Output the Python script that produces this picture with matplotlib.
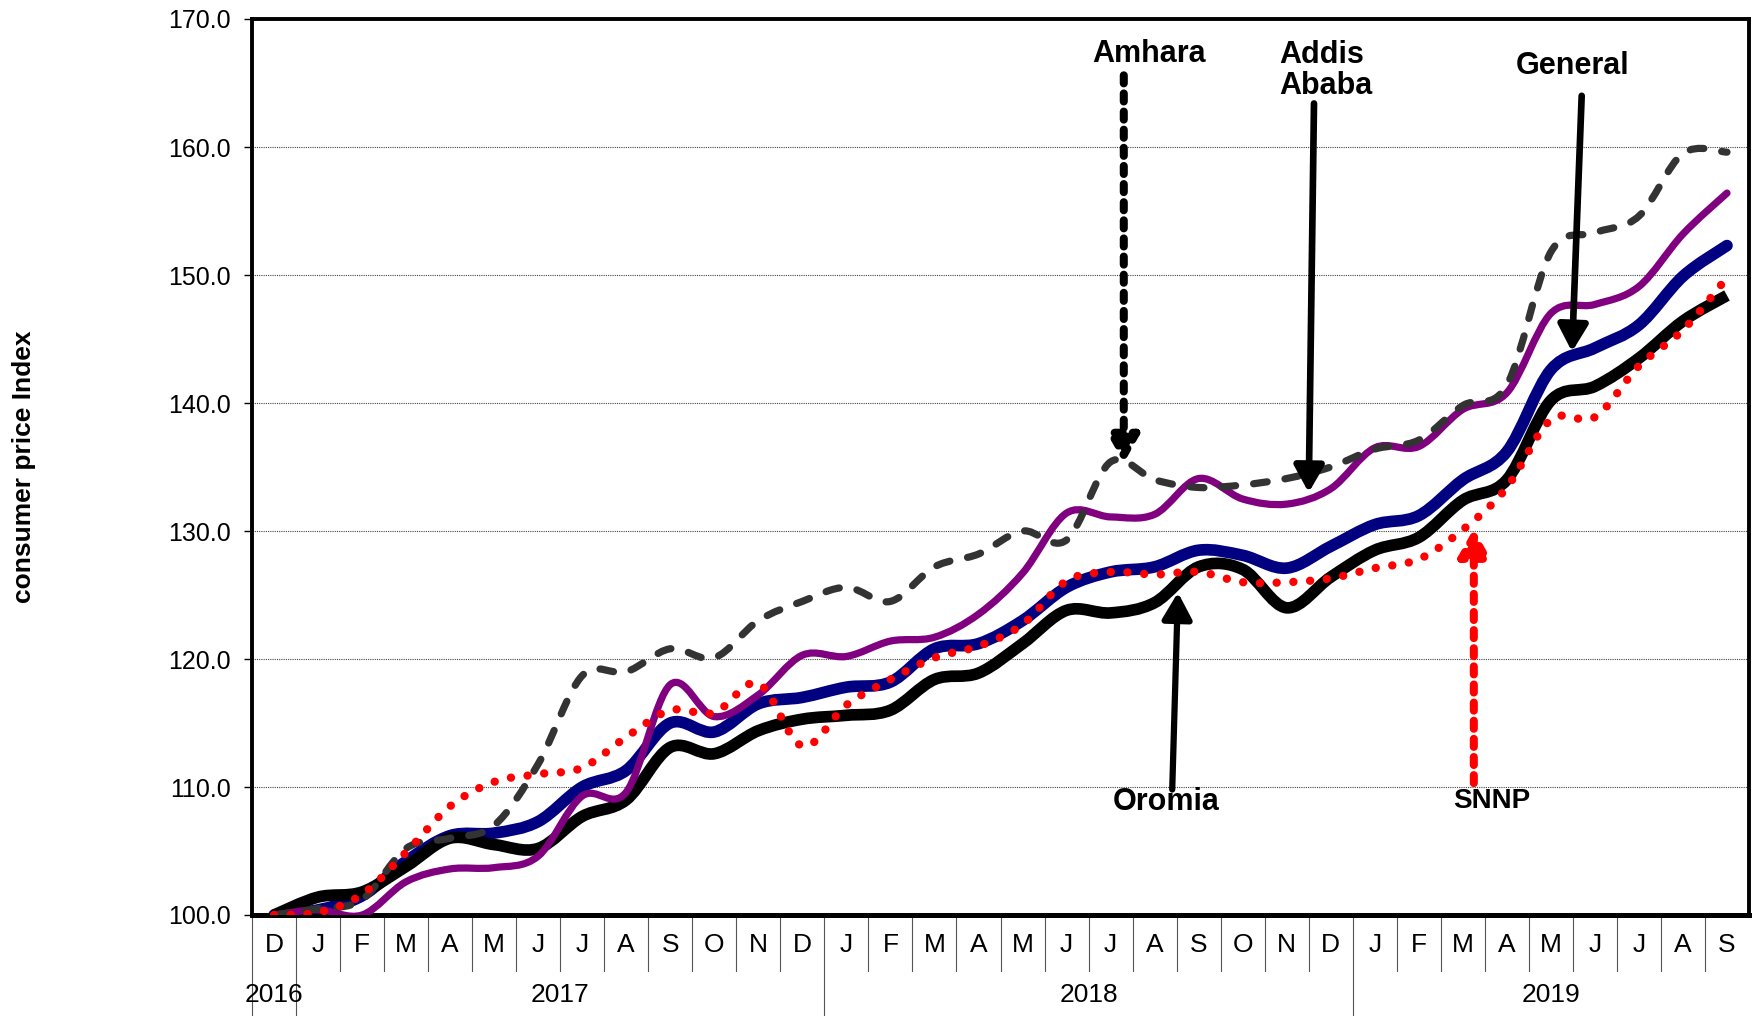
import matplotlib
matplotlib.use("Agg")
import matplotlib.pyplot as plt
from matplotlib.path import Path
from matplotlib.patches import PathPatch
from matplotlib.transforms import blended_transform_factory

plt.rcParams['font.family'] = ['Liberation Sans', 'DejaVu Sans']

# monthly CPI, Dec 2016 .. Sep 2019 (Dec 2016 = 100)
months = ['D', 'J', 'F', 'M', 'A', 'M', 'J', 'J', 'A', 'S', 'O', 'N',
          'D', 'J', 'F', 'M', 'A', 'M', 'J', 'J', 'A', 'S', 'O', 'N',
          'D', 'J', 'F', 'M', 'A', 'M', 'J', 'J', 'A', 'S']
years = ['2016', '2017', '2018', '2019']
year_centers = [0, 6.5, 18.5, 29]

general = [100.0, 100.4, 101.5, 104.2, 106.2, 106.4, 107.3, 110.0, 111.3, 115.0,
           114.3, 116.5, 117.0, 117.8, 118.2, 120.8, 121.2, 123.0, 125.6, 126.8,
           127.2, 128.5, 128.1, 127.1, 128.8, 130.5, 131.2, 134.0, 136.2, 142.6,
           144.3, 146.1, 149.9, 152.3]
oromia = [100.0, 101.4, 101.8, 103.8, 106.0, 105.5, 105.2, 107.7, 109.0, 113.1,
          112.6, 114.4, 115.3, 115.6, 116.0, 118.4, 118.9, 121.2, 123.8, 123.6,
          124.4, 127.2, 127.0, 124.0, 126.4, 128.5, 129.5, 132.4, 134.0, 140.2,
          141.3, 143.5, 146.4, 148.4]
addis = [100.0, 100.4, 100.0, 102.6, 103.6, 103.7, 104.6, 109.3, 109.6, 118.0,
         115.5, 117.2, 120.3, 120.2, 121.4, 121.7, 123.5, 126.7, 131.4, 131.1,
         131.3, 134.1, 132.5, 132.1, 133.3, 136.5, 136.6, 139.5, 140.8, 147.0,
         147.7, 149.1, 153.2, 156.4]
amhara = [100.0, 100.5, 101.2, 105.2, 106.0, 107.0, 111.8, 118.7, 119.0, 120.8,
          120.1, 123.0, 124.5, 125.6, 124.5, 127.2, 128.2, 130.0, 129.3, 135.4,
          134.0, 133.4, 133.6, 134.1, 135.0, 136.4, 137.1, 139.8, 141.4, 151.8,
          153.3, 154.6, 159.5, 159.6]
snnp = [100.0, 100.2, 101.6, 104.9, 108.5, 110.4, 111.0, 111.5, 113.9, 116.0,
        115.8, 118.1, 113.2, 116.4, 118.4, 120.1, 121.0, 122.7, 126.1, 126.8,
        126.6, 126.8, 126.0, 126.0, 126.3, 127.1, 127.8, 130.1, 133.4, 138.7,
        138.9, 142.9, 145.7, 149.8]


def smooth_path(ys):
    # Excel-style smoothed line: cubic Bezier through every point
    xs = list(range(len(ys)))
    n = len(ys)
    verts = [(xs[0], ys[0])]
    codes = [Path.MOVETO]
    for i in range(n - 1):
        xp, yp = (xs[i - 1], ys[i - 1]) if i > 0 else (xs[i], ys[i])
        xn, yn = (xs[i + 2], ys[i + 2]) if i + 2 < n else (xs[i + 1], ys[i + 1])
        c1 = (xs[i] + (xs[i + 1] - xp) / 6, ys[i] + (ys[i + 1] - yp) / 6)
        c2 = (xs[i + 1] - (xn - xs[i]) / 6, ys[i + 1] - (yn - ys[i]) / 6)
        verts += [c1, c2, (xs[i + 1], ys[i + 1])]
        codes += [Path.CURVE4] * 3
    return Path(verts, codes)


fig = plt.figure(figsize=(17.54, 10.16), dpi=100)
ax = fig.add_axes([252 / 1754, 101 / 1016, 1497 / 1754, 896 / 1016])

series = [
    (general, dict(color='#000080', lw=8.4, linestyle='-', capstyle='round'), 2),
    (oromia, dict(color='black', lw=8.4, linestyle='-', capstyle='butt'), 3),
    (addis, dict(color='#800080', lw=5.2, linestyle='-', capstyle='round'), 4),
    (amhara, dict(color='#333333', lw=5.2, linestyle=(0, (1.9, 2.5)), capstyle='round'), 5),
    (snnp, dict(color='#ff0000', lw=6.0, linestyle=(0, (0.01, 2.0)), capstyle='round'), 6),
]
for ys, st, z in series:
    p = PathPatch(smooth_path(ys), fill=False, edgecolor=st['color'], lw=st['lw'],
                  linestyle=st['linestyle'], capstyle=st['capstyle'],
                  joinstyle='round', zorder=z)
    ax.add_patch(p)

ax.set_xlim(-0.5, 33.5)
ax.set_ylim(100, 170)
ax.set_yticks(range(100, 171, 10))
ax.set_yticklabels([f"{v:.1f}" for v in range(100, 171, 10)], fontsize=18)
ax.tick_params(axis='y', length=6, width=1, pad=9)
ax.set_xticks([])
ax.yaxis.grid(True, linestyle=(0, (1, 1)), color='#444444', lw=0.8)
ax.set_axisbelow(True)
for side in ['left', 'top', 'right']:
    ax.spines[side].set_linewidth(2.8)
ax.spines['bottom'].set_linewidth(3.6)

ax.set_ylabel('consumer price Index', fontsize=19, fontweight='bold')
ax.yaxis.set_label_coords(-0.1443, 0.5)

# category axis: month letters, year row and separators
tr = blended_transform_factory(ax.transData, ax.transAxes)
for i, m in enumerate(months):
    ax.text(i, -0.034, m, transform=tr, ha='center', va='center', fontsize=19)
for yr, xc in zip(years, year_centers):
    ax.text(xc, -0.089, yr, transform=tr, ha='center', va='center', fontsize=19)
long_sep = [-0.5, 0.5, 12.5, 24.5]
for b in [i - 0.5 for i in range(34)]:
    bottom = -0.113 if b in long_sep else -0.062
    ax.plot([b, b], [0, bottom], transform=tr, color='#555555', lw=0.8,
            clip_on=False, zorder=1)

# series labels with arrows
labels = [
    ('Amhara', 19.87, 167.3, 'center', 22),
    ('Addis\nAbaba', 22.83, 166.0, 'left', 22),
    ('General', 29.5, 166.3, 'center', 22),
    ('Oromia', 20.26, 108.8, 'center', 22),
    ('SNNP', 27.66, 108.9, 'center', 20),
]
for txt, x, y, ha, fs in labels:
    ax.text(x, y, txt, ha=ha, va='center', fontsize=fs, fontweight='bold',
            color='black', linespacing=1.05, zorder=8)

arrows = [
    ((19.3, 165.6), (19.3, 135.3), 'black', 5.8, (0, (1.0, 1.25))),
    ((23.62, 163.4), (23.5, 133.0), 'black', 4.8, '-'),
    ((29.7, 164.0), (29.48, 144.0), 'black', 4.8, '-'),
    ((20.4, 109.8), (20.53, 125.2), 'black', 4.5, '-'),
    ((27.25, 110.3), (27.25, 130.2), '#ff0000', 5.8, (0, (1.0, 1.25))),
]
for tail, tip, col, lw, ls in arrows:
    ax.annotate('', xy=tip, xytext=tail,
                arrowprops=dict(arrowstyle='-|>,head_length=0.8,head_width=0.45',
                                color=col, lw=lw, linestyle=ls, shrinkA=0,
                                shrinkB=0, mutation_scale=20),
                zorder=9)

fig.savefig('out.png', dpi=100)
